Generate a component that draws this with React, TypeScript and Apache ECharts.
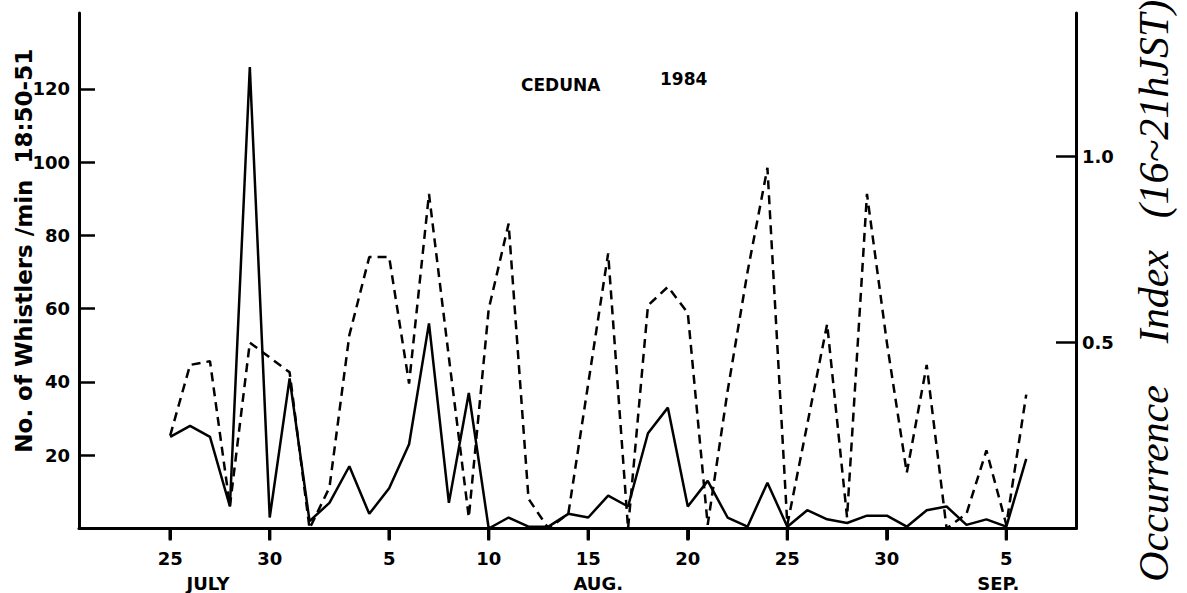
import React, { useEffect, useRef } from 'react';
import * as echarts from 'echarts';

// Day index 0 = 25 July 1984 ... 43 = 6 September 1984
const whistlers = [
  25, 28, 25, 6, 126, 3, 41,
  2, 7, 17, 4, 11, 23, 56, 7, 37, 0, 3, 0.5, 0.5, 4, 3, 9, 6, 26, 33, 6, 13, 3, 0.5, 12.5, 0.5, 5, 2.5, 1.5, 3.5, 3.5, 0.5,
  5, 6, 1, 2.5, 0.5, 19,
];
const occurrence = [
  0.25, 0.44, 0.45, 0.06, 0.5, 0.46, 0.42,
  0.0, 0.11, 0.52, 0.73, 0.73, 0.39, 0.9, 0.46, 0.03, 0.59, 0.82, 0.08, 0.0, 0.04, 0.39, 0.74, 0.0, 0.6, 0.65, 0.58, 0.01,
  0.37, 0.69, 0.97, 0.01, 0.28, 0.55, 0.03, 0.9, 0.5, 0.15,
  0.44, 0.0, 0.04, 0.21, 0.01, 0.36,
];

const tickDays = [0, 5, 11, 16, 21, 26, 31, 36, 42];
const tickLabels = ['25', '30', '5', '10', '15', '20', '25', '30', '5'];
const monthDays = [1.9, 21.5, 41.6];
const monthLabels = ['JULY', 'AUG.', 'SEP.'];
const leftTicks = [20, 40, 60, 80, 100, 120];
const rightTicks = [0.5, 1.0];
const rightTickLabels = ['0.5', '1.0'];

const FONT = 'DejaVu Sans';

export default function App() {
  const ref = useRef<HTMLDivElement>(null);
  useEffect(() => {
    if (!ref.current) return;
    const chart = echarts.init(ref.current, undefined, { renderer: 'svg' });
    const labelStyle = { color: '#000', fontFamily: FONT, fontWeight: 'bold' as const, fontSize: 18 };
    const labelDays = tickDays.concat(monthDays);
    chart.setOption({
      animation: false,
      backgroundColor: '#fff',
      title: [
        { text: 'CEDUNA', left: 516, top: 71, textStyle: { ...labelStyle, fontSize: 17 } },
        { text: '1984', left: 655, top: 65, textStyle: { ...labelStyle, fontSize: 17 } },
      ],
      grid: { left: 79, right: 111, top: 13, bottom: 64.5, outerBoundsMode: 'none', containLabel: false },
      xAxis: {
        type: 'value',
        min: -4.58,
        max: 45.5,
        axisLine: { show: true, onZero: false, lineStyle: { color: '#000', width: 3 } },
        axisTick: { show: true, inside: false, length: 11, customValues: tickDays, lineStyle: { color: '#000', width: 3 } },
        axisLabel: {
          ...labelStyle,
          margin: 0,
          hideOverlap: false,
          customValues: labelDays,
          formatter: (v: number) => {
            const m = monthDays.findIndex((d) => Math.abs(d - v) < 1e-6);
            if (m >= 0) return '{m|' + monthLabels[m] + '}';
            const i = tickDays.findIndex((d) => Math.abs(d - v) < 1e-6);
            return i >= 0 ? '{t|\u00a0}\n{n|' + tickLabels[i] + '}' : '';
          },
          rich: {
            t: { width: 3, height: 12, lineHeight: 12, fontSize: 10, color: '#000', backgroundColor: '#000' },
            n: { ...labelStyle, padding: [9, 0, 0, 0] },
            m: { ...labelStyle, padding: [46, 0, 0, 0] },
          },
        },
        splitLine: { show: false },
      },
      yAxis: [
        {
          type: 'value',
          min: 0,
          max: 140.75,
          position: 'left',
          name: 'No. of Whistlers /min  18:50-51',
          nameLocation: 'middle',
          nameRotate: 90,
          nameGap: 44,
          nameMoveOverlap: false,
          nameTextStyle: { ...labelStyle, fontSize: 23, padding: [0, 0, 0, 40] },
          axisLine: { show: true, onZero: false, lineStyle: { color: '#000', width: 3 } },
          axisTick: { show: true, inside: true, length: 16, customValues: leftTicks, lineStyle: { color: '#000', width: 2.5 } },
          axisLabel: { ...labelStyle, margin: 9, customValues: leftTicks },
          splitLine: { show: false },
        },
        {
          type: 'value',
          min: 0,
          max: 1.3865,
          position: 'right',
          name: 'Occurrence    Index   (16~21hJST)',
          nameLocation: 'middle',
          nameRotate: 90,
          nameGap: 57,
          nameMoveOverlap: false,
          nameTextStyle: {
            color: '#000',
            fontFamily: 'Liberation Serif',
            fontStyle: 'italic',
            fontSize: 42,
            padding: [0, 40, 0, 0],
          },
          axisLine: { show: true, onZero: false, lineStyle: { color: '#000', width: 3 } },
          axisTick: { show: true, inside: true, length: 20, customValues: rightTicks, lineStyle: { color: '#000', width: 2.5 } },
          axisLabel: {
            ...labelStyle,
            margin: 6,
            customValues: rightTicks,
            formatter: (v: number) => {
              const i = rightTicks.findIndex((t) => Math.abs(t - v) < 1e-6);
              return i >= 0 ? rightTickLabels[i] : '';
            },
          },
          splitLine: { show: false },
        },
      ],
      series: [
        {
          name: 'Whistlers',
          type: 'line',
          yAxisIndex: 0,
          data: whistlers.map((v, i) => [i, v]),
          showSymbol: false,
          symbol: 'none',
          lineStyle: { color: '#000', width: 2.5, type: 'solid' },
          z: 3,
        },
        {
          name: 'Occurrence Index',
          type: 'line',
          yAxisIndex: 1,
          data: occurrence.map((v, i) => [i, v]),
          showSymbol: false,
          symbol: 'none',
          lineStyle: { color: '#000', width: 2.5, type: [9, 6] },
          z: 2,
        },
        {
          name: 'Day ticks',
          type: 'custom',
          yAxisIndex: 0,
          clip: false,
          silent: true,
          data: tickDays.map((d) => [d, 0]),
          renderItem: (_params: any, api: any) => {
            const p = api.coord([api.value(0), 0]);
            return {
              type: 'line',
              shape: { x1: p[0], y1: p[1], x2: p[0], y2: p[1] + 11 },
              style: { stroke: '#000', lineWidth: 3 },
            };
          },
          z: 10,
        },
      ],
    });
    return () => chart.dispose();
  }, []);
  return (
    <div
      ref={ref}
      style={{ position: 'fixed', left: 0, top: 0, width: 1187, height: 593, background: '#fff' }}
    />
  );
}
